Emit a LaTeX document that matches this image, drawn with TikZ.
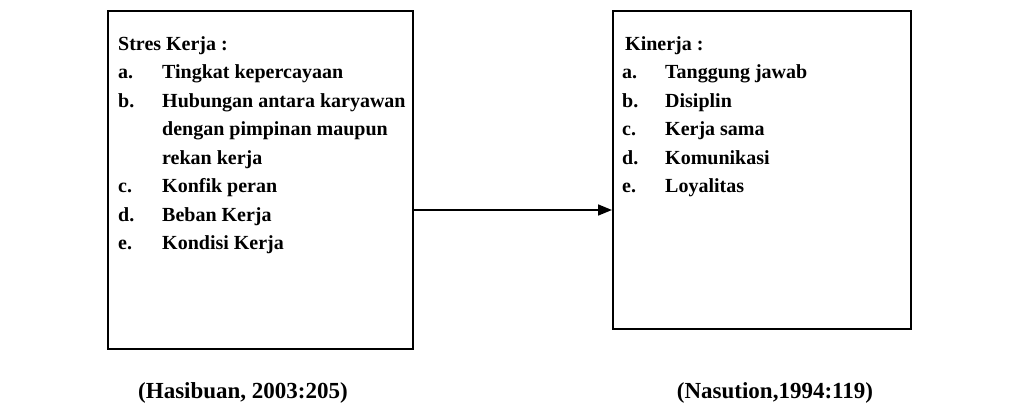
\documentclass[tikz,border=0pt]{standalone}
\usepackage{fontspec}
\setmainfont{Liberation Serif}
\usetikzlibrary{arrows.meta}
\begin{document}
\begin{tikzpicture}[x=1pt,y=-1pt,
  box/.style={draw,line width=1.8pt,anchor=north west,inner sep=0pt},
  txt/.style={anchor=base west,inner sep=0pt,font=\fontsize{20pt}{24pt}\selectfont\bfseries},
  captxt/.style={anchor=base,inner sep=0pt,font=\fontsize{23pt}{26pt}\selectfont\bfseries},
  arr/.style={line width=1.6pt,-{Triangle[length=14pt,width=11pt]}}]
\useasboundingbox (0,0) rectangle (1023,415);
\node[box,minimum width=305pt,minimum height=338pt] (L) at (107,10) {};
\node[box,minimum width=298pt,minimum height=318pt] (R) at (612,10) {};
% left text
\node[txt] (l0) at (118,50) {Stres Kerja :};
\node[txt] (l1a) at (118,78.5) {a.};
\node[txt] (l1) at (162,78.5) {Tingkat kepercayaan};
\node[txt] (l2a) at (118,107) {b.};
\node[txt] (l2) at (162,107) {Hubungan antara karyawan};
\node[txt] (l3) at (162,135.5) {dengan pimpinan maupun};
\node[txt] (l4) at (162,164) {rekan kerja};
\node[txt] (l5a) at (118,192.5) {c.};
\node[txt] (l5) at (162,192.5) {Konfik peran};
\node[txt] (l6a) at (118,221) {d.};
\node[txt] (l6) at (162,221) {Beban Kerja};
\node[txt] (l7a) at (118,249.5) {e.};
\node[txt] (l7) at (162,249.5) {Kondisi Kerja};
% right text
\node[txt] (r0) at (625,50) {Kinerja :};
\node[txt] (r1a) at (622,78.5) {a.};
\node[txt] (r1) at (665,78.5) {Tanggung jawab};
\node[txt] (r2a) at (622,107) {b.};
\node[txt] (r2) at (665,107) {Disiplin};
\node[txt] (r3a) at (622,135.5) {c.};
\node[txt] (r3) at (665,135.5) {Kerja sama};
\node[txt] (r4a) at (622,164) {d.};
\node[txt] (r4) at (665,164) {Komunikasi};
\node[txt] (r5a) at (622,192.5) {e.};
\node[txt] (r5) at (665,192.5) {Loyalitas};
% captions
\node[captxt] (c1) at (243,398) {(Hasibuan, 2003:205)};
\node[captxt] (c2) at (775,398) {(Nasution,1994:119)};
% arrow
\coordinate (ay) at (0,210);
\draw[arr] (L.east |- ay) -- (R.west |- ay);
\end{tikzpicture}
\end{document}
